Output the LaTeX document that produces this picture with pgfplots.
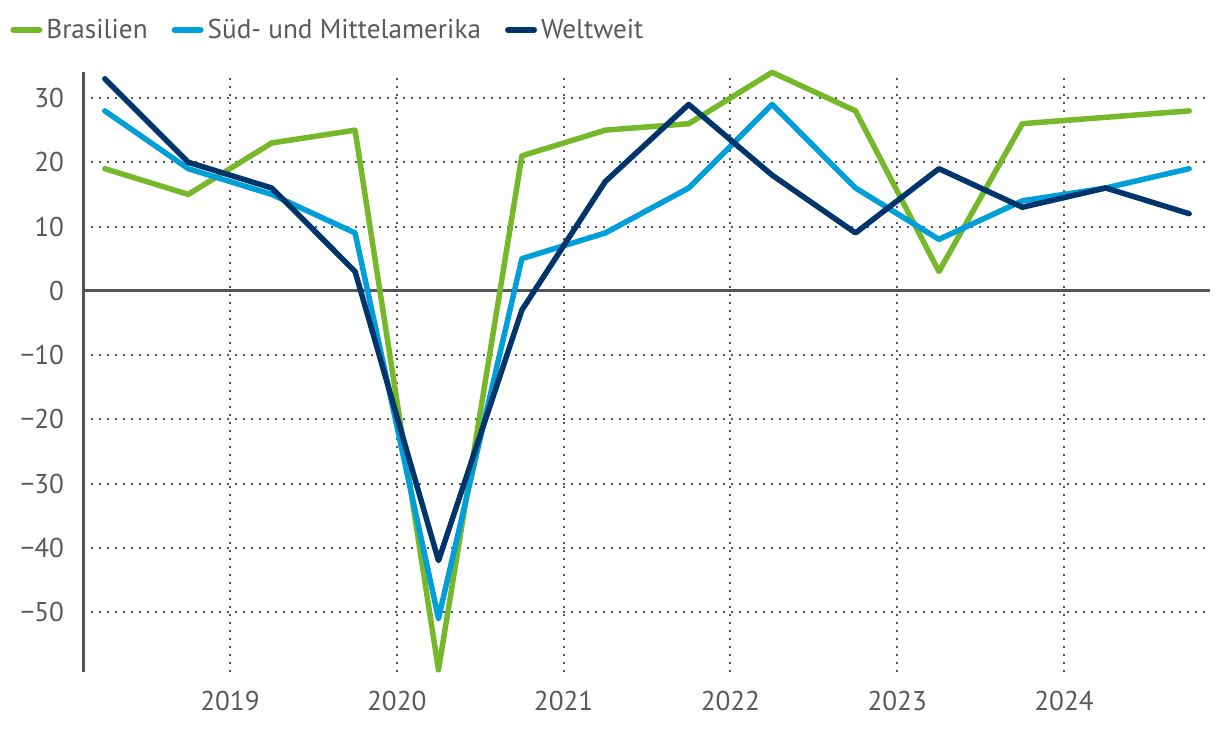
\documentclass[border=0pt]{standalone}
\usepackage{fontspec}
\setmainfont{PT Sans}
\usepackage{pgfplots}
\pgfplotsset{compat=1.18}
\definecolor{cgreen}{HTML}{76B82A}
\definecolor{cblue}{HTML}{009FDA}
\definecolor{cnavy}{HTML}{00356B}
\definecolor{tgray}{HTML}{595959}
\definecolor{agray}{HTML}{555555}
\begin{document}
\begin{tikzpicture}
\begin{axis}[
  at={(0,0)}, anchor=south west,
  scale only axis, width=563.5pt, height=300pt,
  xmin=2018.119, xmax=2024.875,
  ymin=-59.34, ymax=34.05,
  clip=false,
  xtick={2019,2020,2021,2022,2023,2024},
  xticklabels={2019,2020,2021,2022,2023,2024},
  ytick={-50,-40,-30,-20,-10,10,20,30},
  yticklabels={−50,−40,−30,−20,−10,10,20,30},
  extra y ticks={0},
  extra y tick labels={0},
  extra y tick style={grid style={solid, line width=1.5pt, color=agray}},
  major tick length=0pt,
  xmajorgrids, ymajorgrids,
  grid style={line width=1pt, color=agray, dash pattern=on 1pt off 3pt},
  axis x line*=bottom, axis y line*=left,
  x axis line style={draw=none},
  y axis line style={-, line width=1.5pt, color=agray},
  tick label style={font=\fontsize{13.6}{15}\selectfont, text=tgray},
  xticklabel style={yshift=-6pt},
  yticklabel style={xshift=-6pt},
  legend columns=3,
  legend style={at={(-0.0648,1.07)}, anchor=west, draw=none, fill=none,
    font=\fontsize{13.6}{15}\selectfont, text=tgray, inner sep=0pt,
    /tikz/every even column/.append style={column sep=10pt}},
  legend cell align=left,
  legend image code/.code={\draw[line width=3pt, line cap=round] (1.5pt,0pt) -- (14.5pt,0pt);},
  every axis plot/.append style={line width=2.75pt, line join=round, line cap=round},
]
\addplot[cgreen] coordinates {(2018.25,19) (2018.75,15) (2019.25,23) (2019.75,25) (2020.25,-59) (2020.75,21) (2021.25,25) (2021.75,26) (2022.25,34) (2022.75,28) (2023.25,3) (2023.75,26) (2024.25,27) (2024.75,28)};
\addlegendentry{Brasilien}
\addplot[cblue] coordinates {(2018.25,28) (2018.75,19) (2019.25,15) (2019.75,9) (2020.25,-51) (2020.75,5) (2021.25,9) (2021.75,16) (2022.25,29) (2022.75,16) (2023.25,8) (2023.75,14) (2024.25,16) (2024.75,19)};
\addlegendentry{Süd- und Mittelamerika}
\addplot[cnavy] coordinates {(2018.25,33) (2018.75,20) (2019.25,16) (2019.75,3) (2020.25,-42) (2020.75,-3) (2021.25,17) (2021.75,29) (2022.25,18) (2022.75,9) (2023.25,19) (2023.75,13) (2024.25,16) (2024.75,12)};
\addlegendentry{Weltweit}
\end{axis}
\pgfresetboundingbox
\path[use as bounding box] (-41.5pt,-29pt) rectangle (568.5pt,336pt);
\end{tikzpicture}
\end{document}
